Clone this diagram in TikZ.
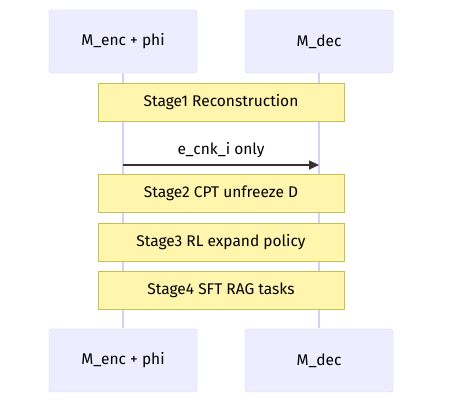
\documentclass[tikz,border=0pt]{standalone}
\usepackage{fontspec}
\setmainfont{Fira Sans}
\usetikzlibrary{arrows.meta}
\colorlet{actfill}{blue!7!white}
\definecolor{actline}{HTML}{D6D0F5}
\definecolor{notefill}{HTML}{FFF5AD}
\definecolor{noteline}{HTML}{C2C252}
\definecolor{msgx}{HTML}{333333}
\tikzset{
    actor/.style={draw=actline,fill=actfill,rounded corners=3pt,minimum width=148pt,minimum height=63pt,inner sep=0pt,font=\fontsize{15.5}{18}\selectfont},
    note/.style={draw=noteline,fill=notefill,minimum width=246pt,minimum height=38pt,inner sep=0pt,font=\fontsize{15.5}{18}\selectfont},
    life/.style={actline,line width=1.2pt}
}
\begin{document}
\begin{tikzpicture}[x=1pt,y=-1pt]
    \useasboundingbox (0,0) rectangle (450,411);
    % lifelines first, boxes on top
    \coordinate (encmsg) at (123,165);
    \coordinate (decmsg) at (319,165);
    \draw [life] (123,73) -- (123,328);
    \draw [life] (319,73) -- (319,328);
    \node [actor] (enctop) at (123,41.5) {M\_enc + phi};
    \node [actor] (dectop) at (319,41.5) {M\_dec};
    \node [actor] (encbot) at (123,360.5) {M\_enc + phi};
    \node [actor] (decbot) at (319,360.5) {M\_dec};
    \node [note] (stage1) at (221,102.5) {Stage1 Reconstruction};
    \node [note] (stage2) at (221,193.5) {Stage2 CPT unfreeze D};
    \node [note] (stage3) at (221,242.5) {Stage3 RL expand policy};
    \node [note] (stage4) at (221,290) {Stage4 SFT RAG tasks};
    \draw [msgx,line width=1.3pt,-{Triangle[length=10pt,width=9pt]}] (encmsg) -- node [above=3pt,black,font=\fontsize{15.5}{18}\selectfont] {e\_cnk\_i only} (decmsg);
\end{tikzpicture}
\end{document}
